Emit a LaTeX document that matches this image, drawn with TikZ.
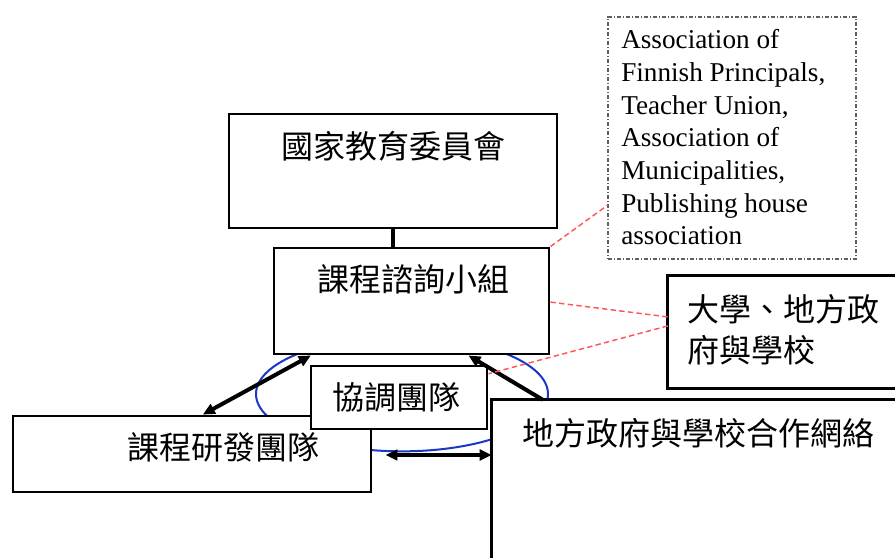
\documentclass[tikz,border=0pt]{standalone}
\usepackage{fontspec}
\setmainfont{Liberation Serif}
\newfontfamily\cjk{Noto Sans CJK TC}
\usetikzlibrary{arrows.meta,calc,fit}
\definecolor{ellblue}{RGB}{25,55,200}
\definecolor{dashred}{RGB}{255,85,85}
\definecolor{boxgray}{RGB}{95,95,95}
\begin{document}
\begin{tikzpicture}[x=0.75pt,y=-0.75pt,
  box/.style={draw=black, line width=2.2pt, fill=white, inner sep=0pt},
  openbox/.style={fill=white, inner sep=0pt},
  edgeline/.style={draw=black, line width=2.2pt},
  cjktext/.style={font=\cjk\fontsize{24}{30.75}\selectfont, inner sep=0pt},
  bigcjk/.style={font=\cjk\fontsize{24}{30}\selectfont, inner sep=0pt},
  conn/.style={line width=3pt, black},
  tipA/.style={-{Triangle[length=9pt,width=8pt]}},
  tipAB/.style={{Triangle[length=9pt,width=8pt]}-{Triangle[length=9pt,width=8pt]}},
  reddash/.style={draw=dashred, line width=1.1pt, dash pattern=on 4pt off 2.5pt},
  dotbox/.style={draw=boxgray, line width=0.8pt, dash pattern=on 3pt off 1.5pt on 0.8pt off 1.5pt, inner sep=0pt},
  entext/.style={font=\fontsize{20.4}{24.5}\selectfont, align=left, inner sep=0pt, anchor=north west}
]
\clip (0,0) rectangle (895,557);

% blue ellipse (behind boxes)
\coordinate (ring) at (402,394);
\draw[ellblue, line width=1.5pt] (ring) ellipse [x radius=109.5pt, y radius=43pt];

% boxes
\node[box, fit={(229,114) (557,228)}] (nc) {};
\node[box, fit={(274,248) (549,354)}] (cg) {};
\node[box, fit={(13,416) (371,492)}] (kf) {};
\node[dotbox, fit={(608,17) (856,259)}] (ab) {};

% univ box (open to the right edge)
\node[openbox, fit={(668,276) (920,388)}] (univ) {};
\draw[edgeline] (univ.north east) -- (univ.north west) -- (univ.south west) -- (univ.south east);

% network box (open to right and bottom)
\node[openbox, fit={(492,400) (920,580)}] (nw) {};
\draw[edgeline] (nw.south west) -- (nw.north west) -- (nw.north east);

% coordination team box (on top of kf)
\node[box, fit={(311,366) (487,429)}] (cd) {};

% texts
\node[cjktext] (nct) at (393,146) {國家教育委員會};
\node[cjktext] (cgt) at (413,279) {課程諮詢小組};
\node[cjktext] (cdt) at (396,397) {協調團隊};
\node[cjktext] (kft) at (223,447) {課程研發團隊};
\node[cjktext, align=left, anchor=west] (univt) at (687,329.5) {大學、地方政\\府與學校};
\node[bigcjk, anchor=west] (nwt) at (522,433) {地方政府與學校合作網絡};
\node[entext] (abt) at (621,29.5) {Association of\\Finnish Principals,\\Teacher Union,\\Association of\\Municipalities,\\Publishing house\\association};

% connectors
\draw[conn] (nc.south) -- (nc.south |- cg.north);
\draw[conn, tipAB] ($(kf.north west)!0.53!(kf.north east)$) -- ($(cg.south west)!0.138!(cg.south east)$);
\coordinate (nwtop) at ($(nw.north west)+(51,0)$);
\draw[conn, tipA] (nwtop) -- ($(cg.south west)!0.705!(cg.south east)$);
\coordinate (hleft) at ($(kf.east)+(13,1)$);
\draw[conn, tipAB] (hleft) -- (hleft -| nw.west);

% red dashed links
\draw[reddash] (cg.north east) -- ($(ab.north west)!0.777!(ab.south west)$);
\draw[reddash] ($(cg.north east)!0.51!(cg.south east)$) -- ($(univ.north west)!0.366!(univ.south west)$);
\draw[reddash] ($(univ.north west)!0.446!(univ.south west)$) -- ($(cd.north east)!0.14!(cd.south east)$);
\end{tikzpicture}
\end{document}
